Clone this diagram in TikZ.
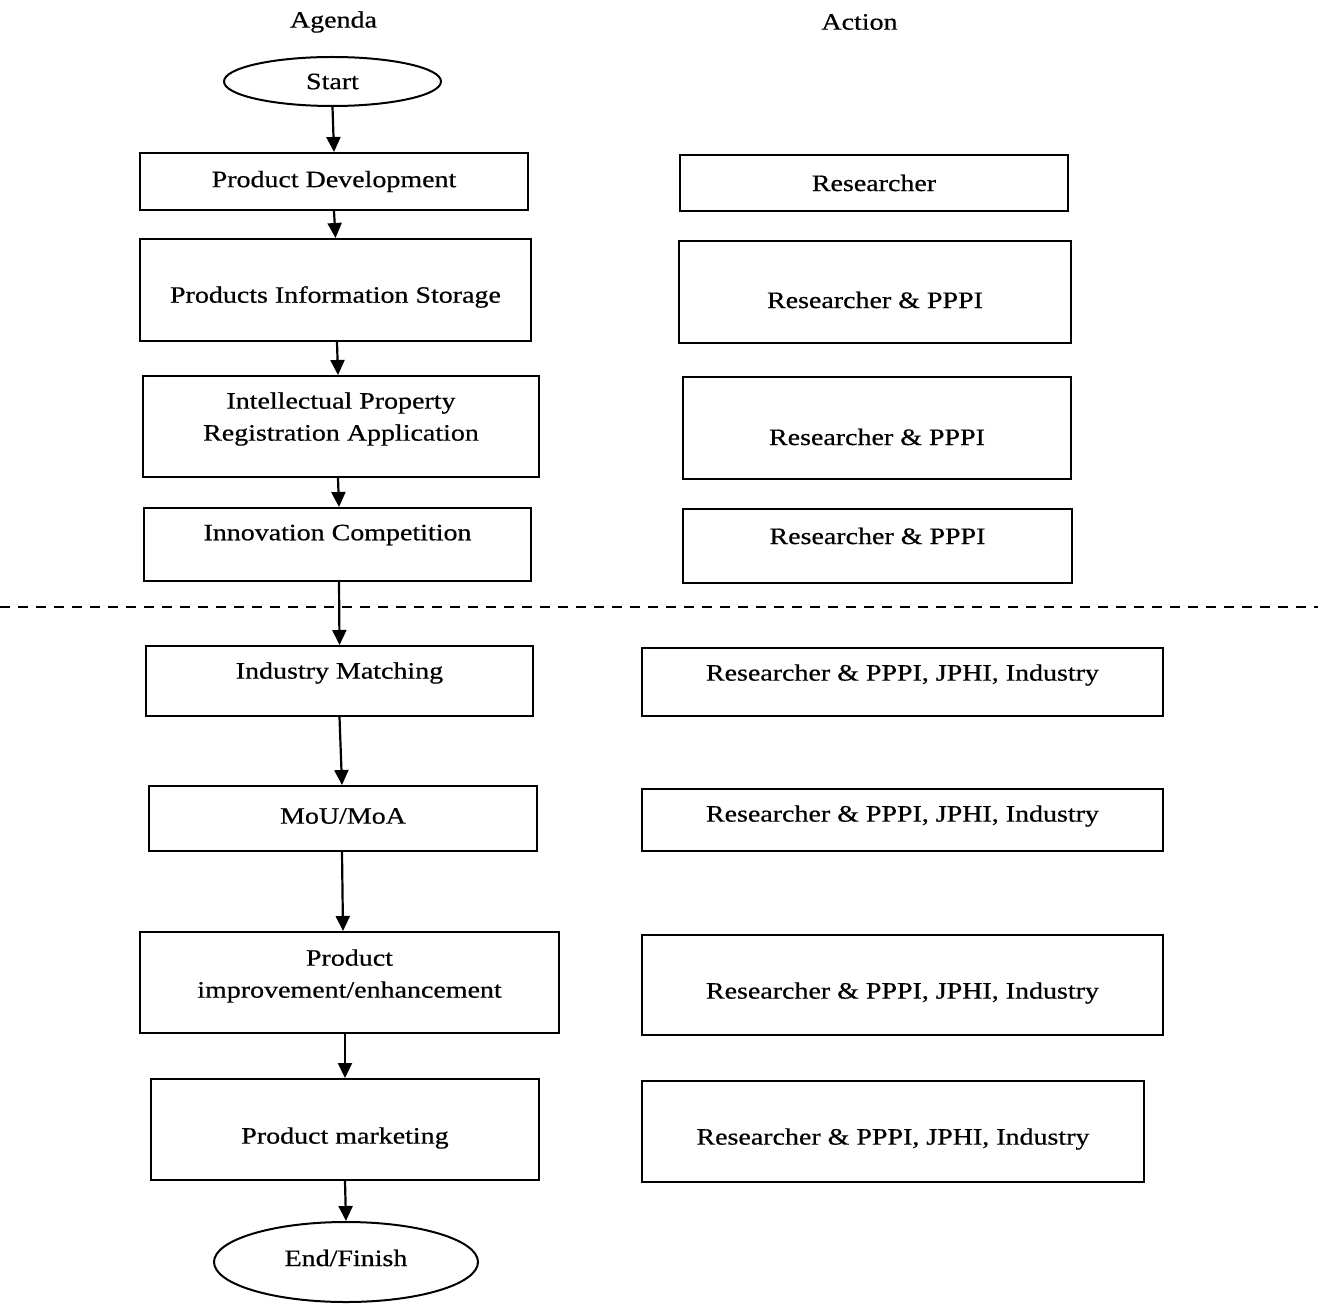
\documentclass[tikz,border=0pt]{standalone}
\usepackage{fontspec}
\setmainfont{Liberation Serif}[FakeStretch=1.19, FakeBold=0.6]
\usetikzlibrary{shapes.geometric,arrows.meta,positioning}

\tikzset{
  agbox/.style={draw, line width=2pt, rectangle, inner sep=0pt},
  agend/.style={draw, line width=2pt, ellipse, inner sep=0pt},
  txt/.style={align=center, inner sep=0pt},
  arr/.style={-{Triangle[length=15pt,width=14pt]}, line width=2.2pt},
}

\begin{document}
\begin{tikzpicture}[x=1pt, y=-1pt, font=\fontsize{23.5pt}{32pt}\selectfont]
\useasboundingbox (0,0) rectangle (1325,1305);

% headings
\node[txt] (agenda) at (333.5,22) {Agenda};
\node[txt] (action) at (859.5,22) {Action};

% agenda column
\node[agend, minimum width=217pt, minimum height=49pt] (start) at (332.5,81.5) {Start};
\node[agbox, minimum width=388pt, minimum height=57pt] (pd) at (334,181.5) {Product Development};
\node[agbox, minimum width=391pt, minimum height=102pt,
  label={[txt, yshift=-7pt]center:Products Information Storage}] (pis) at (335.5,290) {};
\node[agbox, minimum width=396pt, minimum height=101pt,
  label={[txt, yshift=7.5pt]center:Intellectual Property\\Registration Application}] (ipr) at (341,426.5) {};
\node[agbox, minimum width=387pt, minimum height=73pt,
  label={[txt, yshift=9.5pt]center:Innovation Competition}] (ic) at (337.5,544.5) {};
\node[agbox, minimum width=387pt, minimum height=70pt,
  label={[txt, yshift=8pt]center:Industry Matching}] (im) at (339.5,681) {};
\node[agbox, minimum width=388pt, minimum height=65pt,
  label={[txt, yshift=2.5pt]center:MoU/MoA}] (mou) at (343,818.5) {};
\node[agbox, minimum width=419pt, minimum height=101pt,
  label={[txt, yshift=6.5pt]center:Product\\improvement/enhancement}] (pie) at (349.5,982.5) {};
\node[agbox, minimum width=388pt, minimum height=101pt,
  label={[txt, yshift=-8.5pt]center:Product marketing}] (pm) at (345,1129.5) {};
\node[agend, minimum width=264pt, minimum height=80pt,
  label={[txt, yshift=4pt]center:End/Finish}] (fin) at (346,1262) {};

% action column
\node[agbox, minimum width=388pt, minimum height=56pt] (r1) at (874,183) {Researcher};
\node[agbox, minimum width=392pt, minimum height=102pt,
  label={[txt, yshift=-8pt]center:Researcher \& PPPI}] (r2) at (875,292) {};
\node[agbox, minimum width=388pt, minimum height=102pt,
  label={[txt, yshift=-9pt]center:Researcher \& PPPI}] (r3) at (877,428) {};
\node[agbox, minimum width=389pt, minimum height=74pt,
  label={[txt, yshift=10pt]center:Researcher \& PPPI}] (r4) at (877.5,546) {};
\node[agbox, minimum width=521pt, minimum height=68pt,
  label={[txt, yshift=7pt]center:Researcher \& PPPI, JPHI, Industry}] (r5) at (902.5,682) {};
\node[agbox, minimum width=521pt, minimum height=62pt,
  label={[txt, yshift=4pt]center:Researcher \& PPPI, JPHI, Industry}] (r6) at (902.5,820) {};
\node[agbox, minimum width=521pt, minimum height=100pt,
  label={[txt, yshift=-8pt]center:Researcher \& PPPI, JPHI, Industry}] (r7) at (902.5,985) {};
\node[agbox, minimum width=502pt, minimum height=101pt,
  label={[txt, yshift=-7.5pt]center:Researcher \& PPPI, JPHI, Industry}] (r8) at (893,1131.5) {};

% divider
\draw[line width=2pt, dash pattern=on 10pt off 8pt] (0,607) -- (1318,607);

% flow
\draw[arr] (start.south) -- (pd.north);
\draw[arr] (pd.south) -- (pis.north);
\draw[arr] ([xshift=1.5pt]pis.south) -- ([xshift=-3pt]ipr.north);
\draw[arr] ([xshift=-3pt]ipr.south) -- ([xshift=1.5pt]ic.north);
\draw[arr] ([xshift=1.5pt]ic.south) -- (im.north);
\draw[arr] (im.south) -- ([xshift=-1pt]mou.north);
\draw[arr] ([xshift=-1pt]mou.south) -- ([xshift=-6.5pt]pie.north);
\draw[arr] ([xshift=-4.5pt]pie.south) -- (pm.north);
\draw[arr] (pm.south) -- (fin.north);

\end{tikzpicture}
\end{document}
